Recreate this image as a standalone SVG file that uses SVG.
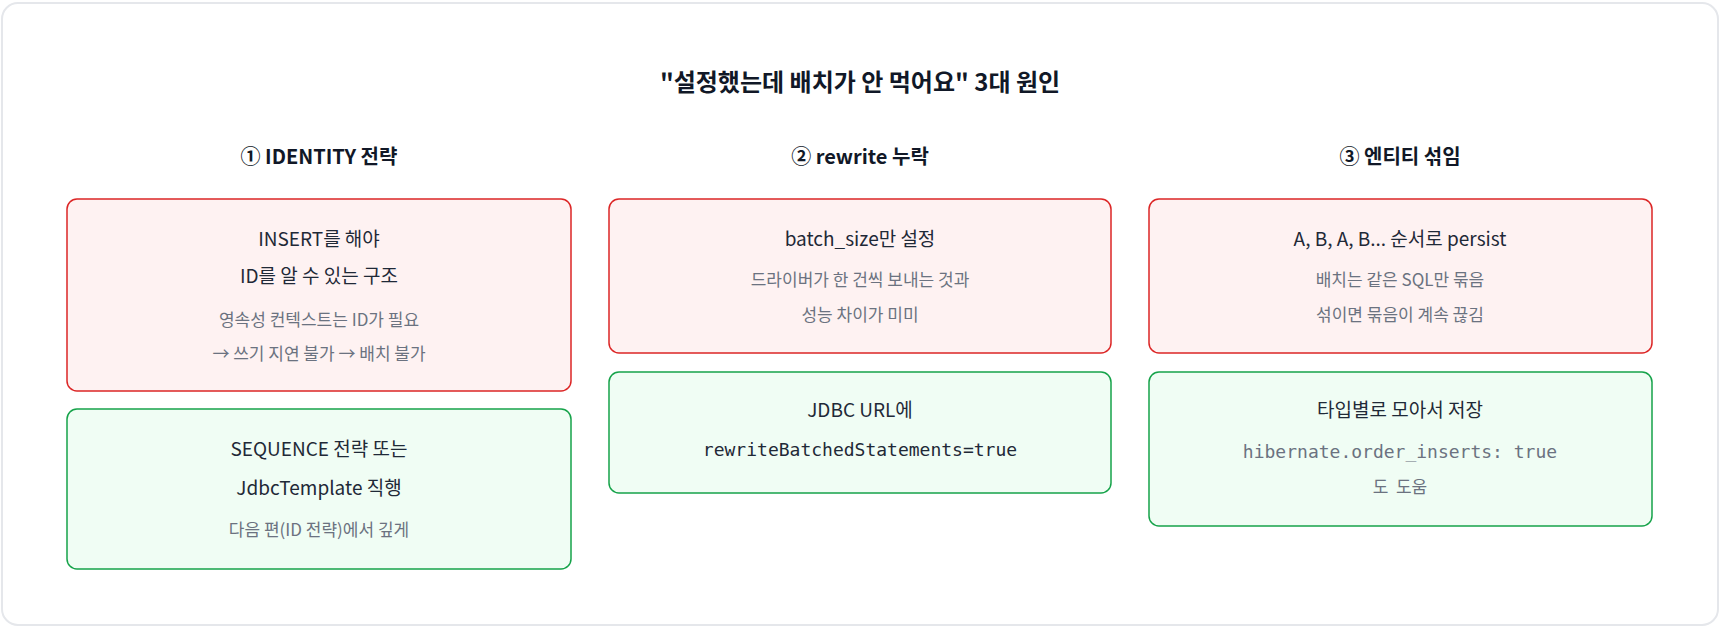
<svg xmlns="http://www.w3.org/2000/svg" width="1720" height="628" viewBox="0 0 1720 628">
<style>
text{font-family:"Noto Sans CJK KR","Noto Sans",sans-serif;text-anchor:middle;dominant-baseline:central}
.t{font-size:24px;font-weight:bold;fill:#111827}
.h{font-size:20px;font-weight:bold;fill:#111827}
.m{font-size:19px;fill:#1f2937}
.s{font-size:17px;fill:#6b7280}
.c{font-family:"DejaVu Sans Mono","Liberation Mono",monospace;font-size:18px}
.r{fill:#fef2f2;stroke:#dc2626;stroke-width:1.5}
.g{fill:#f0fdf4;stroke:#16a34a;stroke-width:1.5}
</style>
<rect x="2" y="3" width="1716" height="622" rx="16" fill="#fff" stroke="#e5e7eb" stroke-width="2"/>
<text class="t" x="860" y="80">"설정했는데 배치가 안 먹어요" 3대 원인</text>
<text class="h" x="319" y="155">① IDENTITY 전략</text>
<text class="h" x="860" y="155">② rewrite 누락</text>
<text class="h" x="1400" y="155">③ 엔티티 섞임</text>
<g id="n1"><rect class="r" x="67" y="199" width="504" height="192" rx="10"/>
<text class="m" x="319" y="237">INSERT를 해야</text><text class="m" x="319" y="274">ID를 알 수 있는 구조</text>
<text class="s" x="319" y="318">영속성 컨텍스트는 ID가 필요</text><text class="s" x="319" y="352">→ 쓰기 지연 불가 → 배치 불가</text></g>
<g id="n2"><rect class="g" x="67" y="409" width="504" height="160" rx="10"/>
<text class="m" x="319" y="447">SEQUENCE 전략 또는</text><text class="m" x="319" y="486">JdbcTemplate 직행</text>
<text class="s" x="319" y="528">다음 편(ID 전략)에서 깊게</text></g>
<g id="n3"><rect class="r" x="609" y="199" width="502" height="154" rx="10"/>
<text class="m" x="860" y="237">batch_size만 설정</text>
<text class="s" x="860" y="278">드라이버가 한 건씩 보내는 것과</text><text class="s" x="860" y="313">성능 차이가 미미</text></g>
<g id="n4"><rect class="g" x="609" y="372" width="502" height="121" rx="10"/>
<text class="m" x="860" y="408">JDBC URL에</text>
<text class="m c" x="860" y="449">rewriteBatchedStatements=true</text></g>
<g id="n5"><rect class="r" x="1149" y="199" width="503" height="154" rx="10"/>
<text class="m" x="1400" y="237">A, B, A, B... 순서로 persist</text>
<text class="s" x="1400" y="278">배치는 같은 SQL만 묶음</text><text class="s" x="1400" y="313">섞이면 묶음이 계속 끊김</text></g>
<g id="n6"><rect class="g" x="1149" y="372" width="503" height="154" rx="10"/>
<text class="m" x="1400" y="408">타입별로 모아서 저장</text>
<text class="s c" x="1400" y="451">hibernate.order_inserts: true</text>
<text class="s" x="1400" y="485">도&#160;&#160;도움</text></g>
<g id="connectors"/>
</svg>
